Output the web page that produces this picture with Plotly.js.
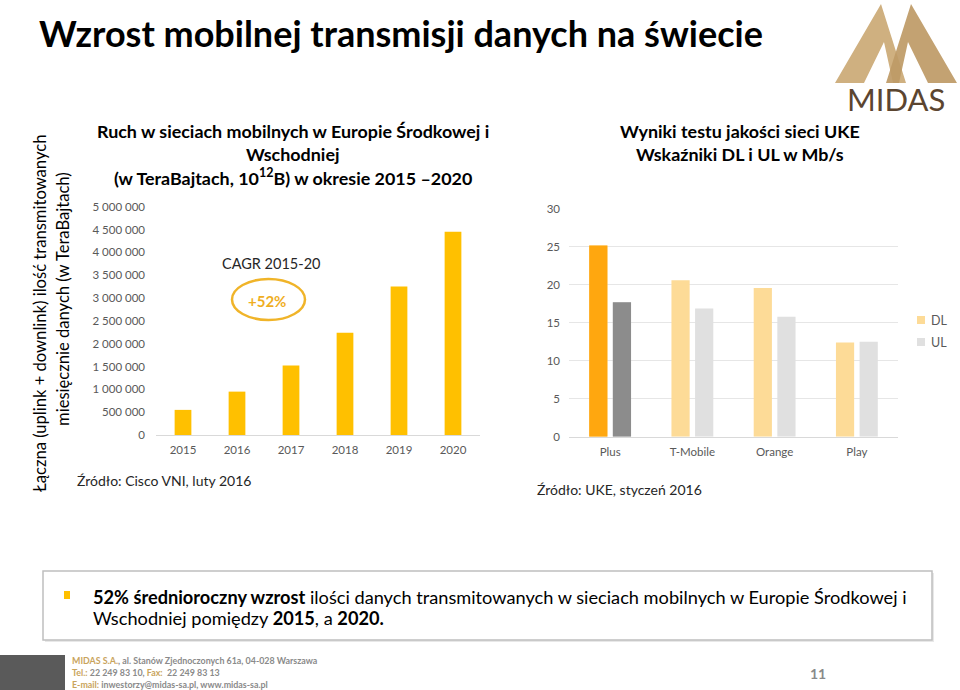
<!DOCTYPE html>
<html>
<head>
<meta charset="utf-8">
<script src="https://cdn.plot.ly/plotly-3.0.1.min.js"></script>
<style>
html,body{margin:0;padding:0;background:#fff;}
#chart{width:960px;height:690px;}
</style>
</head>
<body>
<div id="chart"></div>
<script>
// ---- data ----
const years = ['2015', '2016', '2017', '2018', '2019', '2020'];
const traffic = [550000, 950000, 1520000, 2240000, 3250000, 4450000];
const operators = ['Plus', 'T-Mobile', 'Orange', 'Play'];
const dlValues = [25.2, 20.6, 19.6, 12.4];
const ulValues = [17.7, 16.9, 15.8, 12.5];
const seriesNames = ['DL', 'UL'];

// ---- helpers (pixel -> paper, margins are zero) ----
const W = 960, H = 690;
const px = x => x / W;
const py = y => 1 - y / H;
const FONT = 'Lato, "Open Sans", sans-serif';
const GRAY = '#595959';
const DL_LIGHT = '#FDDB97';
const UL_LIGHT = '#E0E0E0';

function pathFromPts(pts) {
  return pts.map((p, i) => (i ? 'L' : 'M') + px(p[0]).toFixed(5) + ',' + py(p[1]).toFixed(5)).join(' ') + ' Z';
}

const traces = [
  {
    type: 'bar', x: years, y: traffic, xaxis: 'x', yaxis: 'y',
    marker: {color: '#FFC000'}, width: 0.31, showlegend: false, hoverinfo: 'x+y'
  },
  {
    type: 'bar', name: seriesNames[0], x: operators, y: dlValues, xaxis: 'x2', yaxis: 'y2',
    offsetgroup: 'dl', marker: {color: DL_LIGHT}, showlegend: false
  },
  {
    type: 'bar', name: seriesNames[1], x: operators, y: ulValues, xaxis: 'x2', yaxis: 'y2',
    offsetgroup: 'ul', marker: {color: UL_LIGHT}, showlegend: false
  },
  {
    type: 'bar', name: seriesNames[0], x: [operators[0]], y: [dlValues[0]], xaxis: 'x2', yaxis: 'y2',
    offsetgroup: 'dl', marker: {color: '#FFA70F'}, showlegend: false
  },
  {
    type: 'bar', name: seriesNames[1], x: [operators[0]], y: [ulValues[0]], xaxis: 'x2', yaxis: 'y2',
    offsetgroup: 'ul', marker: {color: '#8C8C8C'}, showlegend: false
  }
];

function ann(text, x, y, opts) {
  return Object.assign({
    text: text, x: px(x), y: py(y), xref: 'paper', yref: 'paper',
    showarrow: false, xanchor: 'center', yanchor: 'middle',
    font: {family: FONT, size: 15, color: '#000'}
  }, opts || {});
}

const TS = 17.9;
const annotations = [
  ann('<b>Wzrost mobilnej transmisji danych na świecie</b>', 37, 33, {xanchor: 'left', font: {family: FONT, size: 36, color: '#000'}}),
  ann('<b>Ruch w sieciach mobilnych w Europie Środkowej i</b>', 293, 131, {font: {family: FONT, size: TS, color: '#000'}}),
  ann('<b>Wschodniej</b>', 293, 154, {font: {family: FONT, size: TS, color: '#000'}}),
  ann('<b>(w TeraBajtach, 10<sup>12</sup>B) w okresie 2015 –2020</b>', 293, 177, {font: {family: FONT, size: TS, color: '#000'}}),
  ann('<b>Wyniki testu jakości sieci UKE</b>', 740, 131, {font: {family: FONT, size: TS, color: '#000'}}),
  ann('<b>Wskaźniki DL i UL w Mb/s</b>', 740, 154, {font: {family: FONT, size: TS, color: '#000'}}),
  ann('CAGR 2015-20', 271, 263, {font: {family: FONT, size: 14.5, color: '#262626'}}),
  ann('<b>+52%</b>', 267, 301, {font: {family: FONT, size: 15, color: '#EFAE1F'}}),
  ann('Źródło: Cisco VNI, luty 2016', 75, 480, {xanchor: 'left', font: {family: FONT, size: 14, color: '#262626'}}),
  ann('Źródło: UKE, styczeń 2016', 535, 489, {xanchor: 'left', font: {family: FONT, size: 14, color: '#262626'}}),
  ann('Łączna (uplink + downlink) ilość transmitowanych', 40, 314, {textangle: -90, font: {family: FONT, size: 16.6, color: '#000'}}),
  ann('miesięcznie danych (w TeraBajtach)', 63, 299, {textangle: -90, font: {family: FONT, size: 16.6, color: '#000'}}),
  ann('<b>52% średnioroczny wzrost</b> ilości danych transmitowanych w sieciach mobilnych w Europie Środkowej i', 91, 597, {xanchor: 'left', font: {family: FONT, size: 18.2, color: '#000'}}),
  ann('Wschodniej pomiędzy <b>2015</b>, a <b>2020.</b>', 91, 618, {xanchor: 'left', font: {family: FONT, size: 18.2, color: '#000'}}),
  ann('<b><span style="color:#C9A45C">MIDAS S.A.</span>, al. Stanów Zjednoczonych 61a, 04-028 Warszawa</b>', 70, 660, {xanchor: 'left', font: {family: FONT, size: 8.9, color: '#8A8A8A'}}),
  ann('<b><span style="color:#C9A45C">Tel.:</span> 22 249 83 10, <span style="color:#C9A45C">Fax:</span>  22 249 83 13</b>', 70, 672, {xanchor: 'left', font: {family: FONT, size: 8.9, color: '#8A8A8A'}}),
  ann('<b><span style="color:#C9A45C">E-mail:</span> inwestorzy@midas-sa.pl, www.midas-sa.pl</b>', 70, 684, {xanchor: 'left', font: {family: FONT, size: 8.9, color: '#8A8A8A'}}),
  ann('<b>11</b>', 818, 673, {font: {family: FONT, size: 14, color: '#8A8A8A'}}),
  ann('MIDAS', 896, 99, {font: {family: FONT, size: 31, color: '#5B4530'}}),
  // legend labels
  ann(seriesNames[0], 929, 320, {xanchor: 'left', font: {family: FONT, size: 12.5, color: GRAY}}),
  ann(seriesNames[1], 929, 342, {xanchor: 'left', font: {family: FONT, size: 12.5, color: GRAY}})
];

const shapes = [
  // CAGR ellipse
  {type: 'circle', xref: 'paper', yref: 'paper', x0: px(232), x1: px(305), y0: py(320), y1: py(279),
   line: {color: '#F0B429', width: 2.5}},
  // bottom text box
  {type: 'rect', xref: 'paper', yref: 'paper', x0: px(45), x1: px(934), y0: py(642), y1: py(573),
   line: {width: 0}, fillcolor: '#E8E8E8', layer: 'below'},
  {type: 'rect', xref: 'paper', yref: 'paper', x0: px(43), x1: px(932), y0: py(640), y1: py(571),
   line: {color: '#BFBFBF', width: 1.5}, fillcolor: '#FFFFFF', layer: 'below'},
  // bullet
  {type: 'rect', xref: 'paper', yref: 'paper', x0: px(64), x1: px(70), y0: py(599), y1: py(591),
   line: {width: 0}, fillcolor: '#FFC000'},
  // footer grey block
  {type: 'rect', xref: 'paper', yref: 'paper', x0: px(0), x1: px(65), y0: py(690), y1: py(655),
   line: {width: 0}, fillcolor: '#5A5A5A'},
  // legend swatches
  {type: 'rect', xref: 'paper', yref: 'paper', x0: px(917), x1: px(925), y0: py(324), y1: py(316),
   line: {width: 0}, fillcolor: DL_LIGHT},
  {type: 'rect', xref: 'paper', yref: 'paper', x0: px(917), x1: px(925), y0: py(346), y1: py(338),
   line: {width: 0}, fillcolor: UL_LIGHT},
  // logo: two overlapping Λ
  {type: 'path', xref: 'paper', yref: 'paper', fillrule: 'evenodd',
   path: pathFromPts([[835, 83], [881, 4], [906, 83]]) + ' ' + pathFromPts([[864, 83], [884, 42], [893, 83]]),
   fillcolor: '#CFB080', line: {width: 0}},
  {type: 'path', xref: 'paper', yref: 'paper', fillrule: 'evenodd', opacity: 0.92,
   path: pathFromPts([[957, 83], [911, 4], [886, 83]]) + ' ' + pathFromPts([[928, 83], [908, 42], [899, 83]]),
   fillcolor: '#BE9A66', line: {width: 0}}
];

const layout = {
  width: W, height: H,
  margin: {l: 0, r: 0, t: 0, b: 0, pad: 0},
  paper_bgcolor: '#FFFFFF', plot_bgcolor: 'rgba(0,0,0,0)',
  font: {family: FONT, color: GRAY},
  separators: ', ',
  barmode: 'group', bargap: 0.425, bargroupgap: 0.23,
  showlegend: false,
  xaxis: {domain: [px(156), px(480)], anchor: 'y', type: 'category', showgrid: false, zeroline: false,
          showline: true, linecolor: '#D9D9D9', linewidth: 1, ticks: '', ticklabelstandoff: 4,
          tickfont: {family: FONT, size: 11.5, color: GRAY}, fixedrange: true, automargin: false},
  yaxis: {domain: [py(435), py(206.7)], anchor: 'x', range: [0, 5000000], dtick: 500000, tickformat: ',d',
          showgrid: false, zeroline: false, showline: false, ticks: '', ticklabelstandoff: 10,
          tickfont: {family: FONT, size: 11.5, color: GRAY}, fixedrange: true, automargin: false},
  xaxis2: {domain: [px(569), px(898)], anchor: 'y2', type: 'category', showgrid: false, zeroline: false,
           showline: true, linecolor: '#D9D9D9', linewidth: 1, ticks: '', ticklabelstandoff: 4,
           tickfont: {family: FONT, size: 11.5, color: GRAY}, fixedrange: true, automargin: false},
  yaxis2: {domain: [py(436.7), py(209)], anchor: 'x2', range: [0, 30], dtick: 5,
           showgrid: true, gridcolor: '#E6E6E6', gridwidth: 1, zeroline: false, showline: false,
           ticks: '', ticklabelstandoff: 8,
           tickfont: {family: FONT, size: 11.5, color: GRAY}, fixedrange: true, automargin: false},
  annotations: annotations,
  shapes: shapes
};

Plotly.newPlot('chart', traces, layout, {displayModeBar: false, staticPlot: true});
</script>
</body>
</html>
